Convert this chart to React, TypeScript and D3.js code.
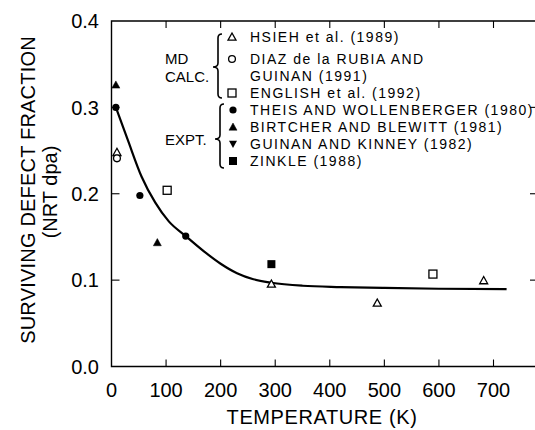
import React from "react";
import * as d3 from "d3";

// data: temperature (K) vs surviving defect fraction
const hsieh = [[10, 0.248], [293, 0.0955], [487, 0.0735], [682, 0.0995]];
const diaz = [[10, 0.241]];
const english = [[102, 0.204], [589, 0.107]];
const theis = [[8, 0.300], [52, 0.198], [136, 0.151]];
const birtcher = [[8, 0.326], [84, 0.1435]];
const zinkle = [[293, 0.1185]];
const fitCurve = [
  [8, 0.300], [30, 0.262], [55, 0.220], [80, 0.190], [105, 0.168], [136, 0.151],
  [170, 0.133], [200, 0.119], [230, 0.108], [260, 0.101], [293, 0.097],
  [350, 0.0935], [420, 0.092], [500, 0.091], [600, 0.090], [724, 0.0895],
];

const xTicks = [0, 100, 200, 300, 400, 500, 600, 700];
const yTicks = [0, 0.1, 0.2, 0.3, 0.4];

const mdLegend = ["HSIEH et al. (1989)", "DIAZ de la RUBIA AND", "GUINAN (1991)", "ENGLISH et al. (1992)"];
const exptLegend = ["THEIS AND WOLLENBERGER (1980)", "BIRTCHER AND BLEWITT (1981)", "GUINAN AND KINNEY (1982)", "ZINKLE (1988)"];

const font = "Liberation Sans, Arial, Helvetica, sans-serif";

function marker(kind: string, x: number, y: number, key: string) {
  const s = 4;
  if (kind === "tri" || kind === "ftri") {
    return <path key={key} d={`M${x},${y - s} L${x + s},${y + s * 0.8} L${x - s},${y + s * 0.8} Z`}
      fill={kind === "ftri" ? "#000" : "#fff"} stroke="#000" strokeWidth={kind === "ftri" ? 0.5 : 1.3} />;
  }
  if (kind === "dtri") {
    return <path key={key} d={`M${x},${y + s} L${x + s},${y - s * 0.8} L${x - s},${y - s * 0.8} Z`} fill="#000" />;
  }
  if (kind === "circ" || kind === "fcirc") {
    return <circle key={key} cx={x} cy={y} r={kind === "fcirc" ? 3.6 : 3.4}
      fill={kind === "fcirc" ? "#000" : "#fff"} stroke="#000" strokeWidth={kind === "fcirc" ? 0 : 1.3} />;
  }
  return <rect key={key} x={x - 4} y={y - 4} width={8} height={8}
    fill={kind === "fsq" ? "#000" : "#fff"} stroke="#000" strokeWidth={kind === "fsq" ? 0 : 1.3} />;
}

function brace(x: number, y1: number, y2: number, ym: number) {
  const c = 4, w = 5;
  return `M${x + c},${y1} Q${x},${y1} ${x},${y1 + c} L${x},${ym - c} Q${x},${ym} ${x - w},${ym} ` +
    `Q${x},${ym} ${x},${ym + c} L${x},${y2 - c} Q${x},${y2} ${x + c},${y2}`;
}

function Chart() {
  const x = d3.scaleLinear().domain([0, 700]).range([111.5, 493.5]);
  const y = d3.scaleLinear().domain([0, 0.4]).range([366.5, 21]);
  const right = 536;
  const line = d3.line<number[]>().x(d => x(d[0])).y(d => y(d[1])).curve(d3.curveMonotoneX);

  const series: [string, number[][]][] = [
    ["tri", hsieh], ["circ", diaz], ["sq", english],
    ["fcirc", theis], ["ftri", birtcher], ["fsq", zinkle],
  ];
  const mdY = [37, 59, 76, 93];
  const exY = [110, 127, 144, 161];
  const mdMarks = ["tri", "circ", "", "sq"];
  const exMarks = ["fcirc", "ftri", "dtri", "fsq"];

  return (
    <svg width={535} height={430} style={{ position: "absolute", left: 0, top: 0 }} fontFamily={font}>
      <rect width={535} height={430} fill="#fff" />
      {/* frame */}
      <path d={`M${right},${y(0.4)} H${x(0)} V${y(0)} H${right} V${y(0.4)}`} fill="none" stroke="#000" strokeWidth={1.4} />
      {xTicks.slice(1).map(t => (
        <g key={"xt" + t}>
          <line x1={x(t)} x2={x(t)} y1={y(0)} y2={y(0) - 7} stroke="#000" strokeWidth={1.1} />
          <line x1={x(t)} x2={x(t)} y1={y(0.4)} y2={y(0.4) + 7} stroke="#000" strokeWidth={1.1} />
        </g>
      ))}
      {yTicks.slice(1, -1).map(t => (
        <g key={"yt" + t}>
          <line x1={x(0)} x2={x(0) + 8} y1={y(t)} y2={y(t)} stroke="#000" strokeWidth={1.1} />
          <line x1={right} x2={right - 6} y1={y(t)} y2={y(t)} stroke="#000" strokeWidth={1.1} />
        </g>
      ))}
      {xTicks.map(t => (
        <text key={"xl" + t} x={x(t)} y={397} fontSize={20} textAnchor="middle">{t}</text>
      ))}
      {yTicks.map(t => (
        <text key={"yl" + t} x={99} y={y(t)} dy="0.36em" fontSize={20} textAnchor="end">{t.toFixed(1)}</text>
      ))}
      <text x={322} y={424} fontSize={20} textAnchor="middle" letterSpacing={0.6}>TEMPERATURE (K)</text>
      <text transform="translate(35,190) rotate(-90)" fontSize={20} textAnchor="middle" letterSpacing={0.2}>SURVIVING DEFECT FRACTION</text>
      <text transform="translate(57,192) rotate(-90)" fontSize={20} textAnchor="middle">(NRT dpa)</text>

      {/* fitted curve */}
      <path d={line(fitCurve) || ""} fill="none" stroke="#000" strokeWidth={2.2} />
      {series.map(([k, pts]) => pts.map((p, i) => marker(k, x(p[0]), y(p[1]), k + i)))}

      {/* legend */}
      <text x={165} y={59} dy="0.36em" fontSize={15}>MD</text>
      <text x={165} y={77} dy="0.36em" fontSize={15}>CALC.</text>
      <text x={165} y={140} dy="0.36em" fontSize={15}>EXPT.</text>
      <path d={brace(218, 34, 98, 67)} fill="none" stroke="#000" strokeWidth={1.6} />
      <path d={brace(220, 104, 168, 139)} fill="none" stroke="#000" strokeWidth={1.6} />
      {mdLegend.map((s, i) => (
        <g key={"md" + i}>
          {mdMarks[i] && marker(mdMarks[i], 232, mdY[i], "mm" + i)}
          <text x={250} y={mdY[i]} dy="0.36em" fontSize={14} letterSpacing={1.5}>{s}</text>
        </g>
      ))}
      {exptLegend.map((s, i) => (
        <g key={"ex" + i}>
          {marker(exMarks[i], 233, exY[i], "em" + i)}
          <text x={250} y={exY[i]} dy="0.36em" fontSize={14} letterSpacing={1.5}>{s}</text>
        </g>
      ))}
    </svg>
  );
}

export default function App() {
  return <Chart />;
}
